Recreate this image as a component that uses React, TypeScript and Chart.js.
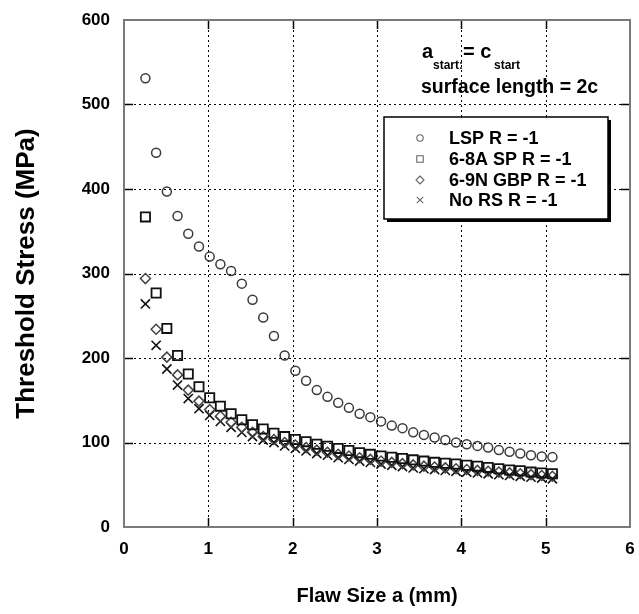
import React, { useEffect, useRef } from "react";
import { Chart, registerables } from "chart.js";

Chart.register(...registerables);

// Flaw size a (mm)
const flawSize = [
  0.254, 0.381, 0.508, 0.635, 0.762, 0.889, 1.016, 1.143, 1.27, 1.397,
  1.524, 1.651, 1.778, 1.905, 2.032, 2.159, 2.286, 2.413, 2.54, 2.667,
  2.794, 2.921, 3.048, 3.175, 3.302, 3.429, 3.556, 3.683, 3.81, 3.937,
  4.064, 4.191, 4.318, 4.445, 4.572, 4.699, 4.826, 4.953, 5.08,
];

// Threshold stress (MPa)
const lspStress = [
  531, 443, 397, 368, 347, 332, 320, 311, 303, 288,
  269, 248, 226, 203, 185, 173, 162, 154, 147, 141,
  134, 130, 125, 120, 117, 112, 109, 106, 103, 100,
  98, 96, 94, 91, 89, 87, 85, 83.5, 82.7,
];
const spStress = [
  367, 277, 235, 203, 181, 166, 153, 143, 134, 127,
  121, 116, 111, 107, 103.5, 101, 98, 95.5, 93, 90.5,
  88, 86, 84, 82.5, 81, 79.5, 78, 76.5, 75.5, 74.5,
  73, 72, 70.5, 69, 67.5, 66.5, 65, 64, 63,
];
const gbpStress = [
  294, 234, 201, 180, 162, 149, 139, 131, 124, 118,
  112, 107, 103.5, 100, 97, 94, 91, 88.5, 86, 84,
  82, 80, 78, 76.5, 75, 73.5, 72, 71, 70, 69,
  68, 67, 66, 65, 64, 63, 62, 61, 60,
];
const noRsStress = [
  264, 215, 187, 168, 152, 140, 132, 125, 118, 112,
  107, 103, 100, 96, 93, 90, 87, 85, 82, 80,
  78, 76.5, 74.5, 73, 71.5, 70, 69, 68, 67, 66,
  65, 64, 63, 62, 61, 60, 59, 58, 57,
];

const seriesLabels = ["LSP R = -1", "6-8A SP R = -1", "6-9N GBP R = -1", "No RS R = -1"];
const xTicks = [0, 1, 2, 3, 4, 5, 6];
const yTicks = [0, 100, 200, 300, 400, 500, 600];

const FONT = "'Liberation Sans', Arial, Helvetica, sans-serif";

const toPoints = (ys: number[]) => ys.map((y, i) => ({ x: flawSize[i], y }));

function drawMarker(ctx: CanvasRenderingContext2D, style: string, x: number, y: number, s: number) {
  ctx.beginPath();
  if (style === "circle") {
    ctx.arc(x, y, s, 0, Math.PI * 2);
  } else if (style === "rect") {
    ctx.rect(x - s, y - s, 2 * s, 2 * s);
  } else if (style === "rectRot") {
    ctx.moveTo(x, y - s);
    ctx.lineTo(x + s, y);
    ctx.lineTo(x, y + s);
    ctx.lineTo(x - s, y);
    ctx.closePath();
  } else {
    ctx.moveTo(x - s, y - s);
    ctx.lineTo(x + s, y + s);
    ctx.moveTo(x + s, y - s);
    ctx.lineTo(x - s, y + s);
  }
  ctx.stroke();
}

const framePlugin = {
  id: "frame",
  beforeDatasetsDraw(chart: any) {
    const { ctx, chartArea } = chart;
    const xs = chart.scales.x;
    const ys = chart.scales.y;
    const { left, right, top, bottom } = chartArea;
    ctx.save();
    ctx.strokeStyle = "#000";
    ctx.lineWidth = 1;
    ctx.setLineDash([2, 3]);
    xTicks.slice(1, -1).forEach((v) => {
      const px = Math.round(xs.getPixelForValue(v)) + 0.5;
      ctx.beginPath();
      ctx.moveTo(px, top);
      ctx.lineTo(px, bottom);
      ctx.stroke();
    });
    yTicks.slice(1, -1).forEach((v) => {
      const py = Math.round(ys.getPixelForValue(v)) + 0.5;
      ctx.beginPath();
      ctx.moveTo(left, py);
      ctx.lineTo(right, py);
      ctx.stroke();
    });
    ctx.setLineDash([]);
    ctx.lineWidth = 1.5;
    const tl = 9;
    xTicks.slice(1, -1).forEach((v) => {
      const px = Math.round(xs.getPixelForValue(v)) + 0.5;
      ctx.beginPath();
      ctx.moveTo(px, top);
      ctx.lineTo(px, top + tl);
      ctx.moveTo(px, bottom);
      ctx.lineTo(px, bottom - tl);
      ctx.stroke();
    });
    yTicks.slice(1, -1).forEach((v) => {
      const py = Math.round(ys.getPixelForValue(v)) + 0.5;
      ctx.beginPath();
      ctx.moveTo(left, py);
      ctx.lineTo(left + tl, py);
      ctx.moveTo(right, py);
      ctx.lineTo(right - tl, py);
      ctx.stroke();
    });
    ctx.strokeStyle = "#7a7a7a";
    ctx.lineWidth = 2;
    ctx.strokeRect(left, top, right - left, bottom - top);
    ctx.restore();
  },
  afterDraw(chart: any) {
    const { ctx } = chart;
    ctx.save();
    ctx.fillStyle = "#000";
    ctx.textBaseline = "alphabetic";
    ctx.textAlign = "left";
    // annotation
    ctx.font = `bold 20px ${FONT}`;
    ctx.fillText("a", 422, 58);
    ctx.fillText("= c", 463, 58);
    ctx.font = `bold 12px ${FONT}`;
    ctx.fillText("start:", 433, 69);
    ctx.fillText("start", 494, 69);
    ctx.font = `bold 19.5px ${FONT}`;
    ctx.fillText("surface length = 2c", 421, 93);

    // legend box
    const bx = 384, by = 117, bw = 224, bh = 102;
    ctx.fillStyle = "#000";
    ctx.fillRect(bx + 3, by + 3, bw, bh);
    ctx.fillStyle = "#fff";
    ctx.fillRect(bx, by, bw, bh);
    ctx.strokeStyle = "#000";
    ctx.lineWidth = 1.5;
    ctx.strokeRect(bx, by, bw, bh);

    const styles = ["circle", "rect", "rectRot", "crossRot"];
    const rows = [138, 159, 180, 200];
    ctx.font = `bold 18px ${FONT}`;
    ctx.textBaseline = "middle";
    seriesLabels.forEach((lab, i) => {
      ctx.strokeStyle = "#666";
      ctx.lineWidth = 1.1;
      drawMarker(ctx, styles[i], 420, rows[i], i === 2 ? 4 : 3.2);
      ctx.fillStyle = "#000";
      ctx.fillText(lab, 449, rows[i] + 1);
    });
    ctx.restore();
  },
};

export default function App() {
  const canvasRef = useRef<HTMLCanvasElement | null>(null);

  useEffect(() => {
    const canvas = canvasRef.current;
    if (!canvas) return;
    const chart = new Chart(canvas, {
      type: "scatter",
      data: {
        datasets: [
          {
            label: seriesLabels[0],
            data: toPoints(lspStress),
            pointStyle: "circle",
            pointRadius: 4.5,
            borderColor: "#3a3a3a",
            backgroundColor: "rgba(0,0,0,0)",
            borderWidth: 1.5,
          },
          {
            label: seriesLabels[1],
            data: toPoints(spStress),
            pointStyle: "rect",
            pointRadius: 6.5,
            borderColor: "#111",
            backgroundColor: "rgba(0,0,0,0)",
            borderWidth: 1.8,
          },
          {
            label: seriesLabels[2],
            data: toPoints(gbpStress),
            pointStyle: "rectRot",
            pointRadius: 5,
            borderColor: "#444",
            backgroundColor: "rgba(0,0,0,0)",
            borderWidth: 1.5,
          },
          {
            label: seriesLabels[3],
            data: toPoints(noRsStress),
            pointStyle: "crossRot",
            pointRadius: 6.5,
            borderColor: "#111",
            backgroundColor: "rgba(0,0,0,0)",
            borderWidth: 1.6,
          },
        ],
      },
      options: {
        responsive: false,
        animation: false,
        events: [],
        layout: { padding: { top: 20, right: 9, bottom: 0, left: 0 } },
        plugins: {
          legend: { display: false },
          tooltip: { enabled: false },
        },
        scales: {
          x: {
            type: "linear",
            min: 0,
            max: 6,
            afterBuildTicks: (s: any) => {
              s.ticks = xTicks.map((v) => ({ value: v }));
            },
            ticks: {
              color: "#000",
              font: { family: FONT, size: 17, weight: "bold" },
              padding: 12,
              maxRotation: 0,
            },
            grid: { display: false, drawTicks: false },
            border: { display: false },
            title: {
              display: true,
              text: "Flaw Size a (mm)",
              color: "#000",
              font: { family: FONT, size: 20, weight: "bold" },
              padding: { top: 0, bottom: 6 },
            },
            afterFit: (s: any) => {
              s.height = 87;
              s.paddingLeft = 0;
              s.paddingRight = 0;
              s.paddingTop = 0;
              s.paddingBottom = 0;
            },
          },
          y: {
            type: "linear",
            min: 0,
            max: 600,
            afterBuildTicks: (s: any) => {
              s.ticks = yTicks.map((v) => ({ value: v }));
            },
            ticks: {
              color: "#000",
              font: { family: FONT, size: 17, weight: "bold" },
              padding: 14,
            },
            grid: { display: false, drawTicks: false },
            border: { display: false },
            title: {
              display: true,
              text: "Threshold Stress (MPa)",
              color: "#000",
              font: { family: FONT, size: 26, weight: "bold" },
              padding: { top: 11, bottom: 0 },
            },
            afterFit: (s: any) => {
              s.width = 124;
              s.paddingLeft = 0;
              s.paddingRight = 0;
              s.paddingTop = 0;
              s.paddingBottom = 0;
            },
          },
        },
      },
      plugins: [framePlugin],
    } as any);
    return () => chart.destroy();
  }, []);

  return (
    <div style={{ position: "absolute", left: 0, top: 0, width: 639, height: 614, background: "#fff" }}>
      <canvas ref={canvasRef} width={639} height={614} style={{ display: "block" }} />
    </div>
  );
}
